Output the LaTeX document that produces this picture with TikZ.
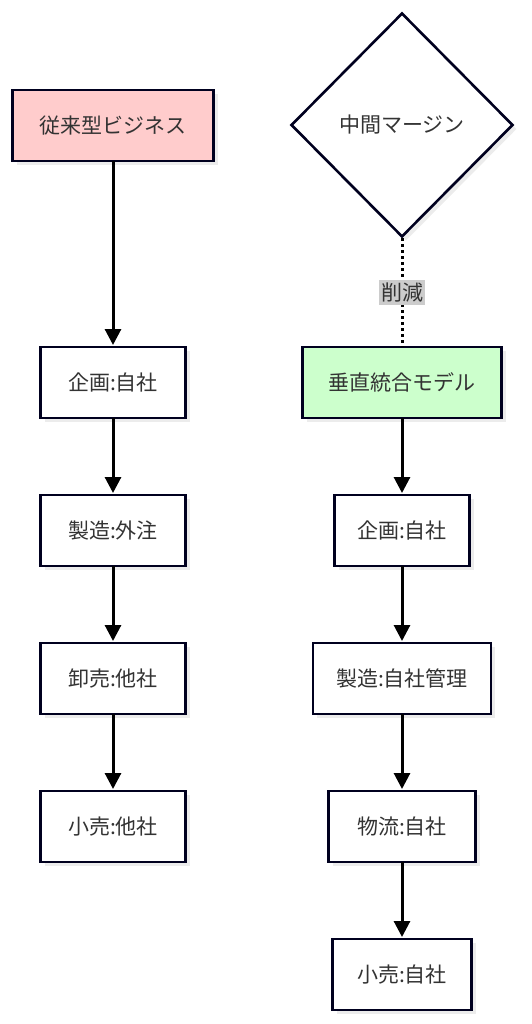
\documentclass[tikz,border=0pt]{standalone}
\usepackage{fontspec}
\setmainfont{Noto Sans CJK JP}
\usepackage{tikz}
\usetikzlibrary{arrows.meta,positioning,shapes.geometric,shadows}
\tikzset{
	flow chart/.style={
		x=1pt, y=1pt,
		font=\fontsize{21}{24}\selectfont,
		node distance=77pt and 0pt,
		ar/.style={draw=black, line width=3pt, -{Triangle[length=16pt,width=16pt]}, shorten >=2pt},
		cut/.style={draw=black, line width=3pt, dash pattern=on 3pt off 3pt}
		},
	stepbox/.style={draw=black!80!blue!60!black, line width=2.6pt, fill=white, outer sep=0pt,
		minimum height=71pt, minimum width=#1, inner sep=0pt, text=black!80,
		drop shadow={shadow xshift=4pt, shadow yshift=-4pt, fill=black!12, opacity=.6}},
	stepbox/.default=145pt,
	startbox/.style={stepbox=201pt, fill=red!20},
	goalbox/.style={stepbox=199pt, fill=green!20},
	margin/.style={diamond, draw=black!80!blue!60!black, line width=2.6pt, fill=white,
		minimum width=222pt, minimum height=224pt, inner sep=0pt, text=black!80,
		drop shadow={shadow xshift=4pt, shadow yshift=-4pt, fill=black!12, opacity=.6}},
	cutlabel/.style={fill=black!20, inner xsep=2pt, inner ysep=3pt, text=black!80}
}

\begin{document}
\begin{tikzpicture}[flow chart]
	\useasboundingbox (0,0) rectangle (531,-1024);
	% traditional business
	\node[startbox] (Old) at (113,-125.5) {従来型ビジネス};
	\node[stepbox] (OldPlan) at (113,-382.5) {企画:自社};
	\node[stepbox, below=of OldPlan] (OldMake) {製造:外注};
	\node[stepbox, below=of OldMake] (OldWhole) {卸売:他社};
	\node[stepbox, below=of OldWhole] (OldRetail) {小売:他社};
	% vertical integration
	\node[margin] (Margin) at (402,-125) {中間マージン};
	\node[goalbox] (New) at (402,-382.5) {垂直統合モデル};
	\node[stepbox=135pt, below=of New] (NewPlan) {企画:自社};
	\node[stepbox=178pt, below=of NewPlan] (NewMake) {製造:自社管理};
	\node[stepbox=147pt, below=of NewMake] (NewShip) {物流:自社};
	\node[stepbox=139pt, below=of NewShip] (NewRetail) {小売:自社};

	\foreach \a/\b in {Old/OldPlan, OldPlan/OldMake, OldMake/OldWhole, OldWhole/OldRetail,
		New/NewPlan, NewPlan/NewMake, NewMake/NewShip, NewShip/NewRetail}
		\draw[ar] (\a) -- (\b);
	\draw[cut] (Margin.south) -- node[cutlabel] (Cut) {削減} (New.north);
\end{tikzpicture}
\end{document}
